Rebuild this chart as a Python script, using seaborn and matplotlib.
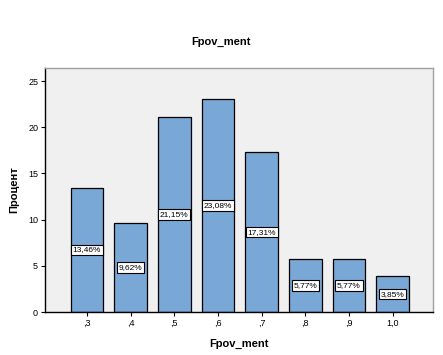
import numpy as np
import matplotlib
matplotlib.use("Agg")
import matplotlib.pyplot as plt
import seaborn as sns
import pandas as pd

categories = [",3", ",4", ",5", ",6", ",7", ",8", ",9", "1,0"]
percent = [13.46, 9.62, 21.15, 23.08, 17.31, 5.77, 5.77, 3.85]
labels = ["13,46%", "9,62%", "21,15%", "23,08%", "17,31%", "5,77%", "5,77%", "3,85%"]

sns.set_style("white")
plt.rcParams['font.family'] = ['Liberation Sans', 'DejaVu Sans']
plt.rcParams['text.color'] = 'black'
plt.rcParams['axes.labelcolor'] = 'black'
plt.rcParams['xtick.color'] = 'black'
plt.rcParams['ytick.color'] = 'black'

df = pd.DataFrame({"cat": categories, "pct": percent})

fig = plt.figure(figsize=(4.43, 3.55), dpi=100)
ax = fig.add_axes([0.1016, 0.121, 0.8754, 0.687])
ax.set_facecolor("#f0f0f0")

sns.barplot(data=df, x="cat", y="pct", color="#79a8d6", saturation=1,
            width=0.75, edgecolor="black", linewidth=0.9, ax=ax)

for i, (v, lab) in enumerate(zip(percent, labels)):
    ax.text(i, v / 2, lab, ha="center", va="center", fontsize=6, color="black",
            bbox=dict(boxstyle="square,pad=0.2", fc="white", ec="black", lw=0.8))

ax.set_xlim(-0.96, 7.92)
ax.set_ylim(0, 26.4)
ax.set_yticks([0, 5, 10, 15, 20, 25])
ax.tick_params(axis="both", labelsize=6.5, length=3, width=0.8, direction="out",
               bottom=True, left=True, pad=2, colors="black")

for s in ["left", "bottom"]:
    ax.spines[s].set_color("black")
    ax.spines[s].set_linewidth(1.0)
for s in ["top", "right"]:
    ax.spines[s].set_color("#a0a0a0")
    ax.spines[s].set_linewidth(1.0)

ax.set_xlabel("Fpov_ment", fontsize=8, fontweight="bold", labelpad=8, color="black")
ax.set_ylabel("Процент", fontsize=8, fontweight="bold", labelpad=6, color="black")
fig.text(0.5, 0.882, "Fpov_ment", ha="center", va="center", fontsize=8,
         fontweight="bold", color="black")

fig.savefig("out.png", dpi=100)
